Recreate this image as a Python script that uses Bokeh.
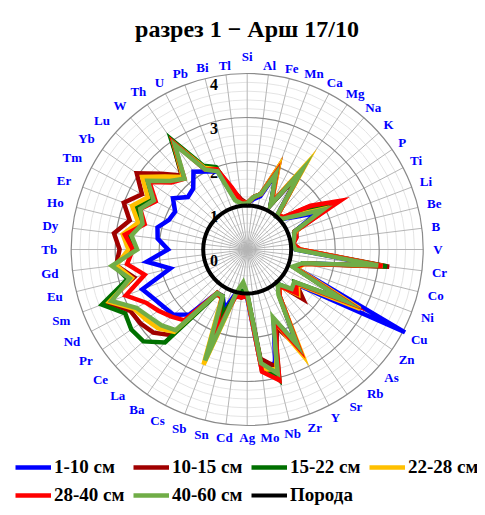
import numpy as np
from bokeh.plotting import figure
from bokeh.models import Range1d, Label, Legend, LegendItem
from bokeh.embed import file_html
from bokeh.resources import INLINE
from bokeh.core.properties import value

# ---------------- data ----------------
categories = ["Si", "Al", "Fe", "Mn", "Ca", "Mg", "Na", "K", "P", "Ti", "Li", "Be", "B", "V",
              "Cr", "Co", "Ni", "Cu", "Zn", "As", "Rb", "Sr", "Y", "Zr", "Nb", "Mo", "Ag",
              "Cd", "Sn", "Sb", "Cs", "Ba", "La", "Ce", "Pr", "Nd", "Sm", "Eu", "Gd", "Tb",
              "Dy", "Ho", "Er", "Tm", "Yb", "Lu", "W", "Th", "U", "Pb", "Bi", "Tl"]

s_1_10 = [1.05, 1.15, 1.25, 1.85, 1.15, 2.10, 1.00, 1.05, 1.30, 1.80, 1.15, 1.10, 1.05, 1.10,
          3.05, 1.30, 1.20, 4.05, 1.45, 1.40, 1.05, 1.30, 2.40, 1.70, 2.65, 2.75, 1.10,
          1.05, 1.00, 1.45, 1.20, 1.20, 1.97, 2.24, 2.30, 2.40, 2.55, 1.80, 2.30, 1.80,
          2.05, 2.10, 1.90, 1.85, 2.05, 1.80, 1.85, 2.15, 2.00, 1.90, 1.20, 1.05]
s_10_15 = [1.05, 1.20, 1.30, 2.00, 1.15, 2.15, 1.05, 1.10, 1.70, 2.20, 1.20, 1.15, 1.05, 1.20,
           3.25, 1.35, 1.15, 2.55, 1.35, 1.70, 1.05, 1.30, 2.50, 1.90, 2.75, 2.50, 1.05,
           1.10, 1.05, 1.75, 1.20, 1.20, 2.60, 2.85, 2.95, 3.00, 3.40, 2.65, 3.00, 2.90,
           3.05, 2.75, 3.00, 2.70, 3.05, 2.60, 2.25, 3.00, 2.10, 1.95, 1.40, 1.15]
s_15_22 = [1.05, 1.20, 1.30, 1.90, 1.15, 2.15, 1.05, 1.05, 1.45, 2.10, 1.15, 1.10, 1.05, 1.15,
           3.20, 1.30, 1.15, 2.50, 1.30, 1.45, 1.05, 1.30, 2.50, 1.70, 3.05, 2.60, 1.00,
           0.95, 1.10, 1.60, 1.20, 1.25, 2.82, 3.15, 3.20, 3.13, 3.53, 2.80, 3.05, 2.60,
           2.75, 2.50, 2.70, 2.50, 2.85, 2.45, 2.20, 3.05, 2.15, 2.00, 1.30, 1.10]
s_22_28 = [1.05, 1.20, 1.30, 2.00, 1.20, 2.33, 1.05, 1.10, 1.40, 2.00, 1.20, 1.10, 1.05, 1.20,
           3.10, 1.35, 1.20, 2.90, 1.40, 1.55, 1.10, 1.30, 2.70, 1.75, 2.80, 2.75, 1.05,
           1.05, 1.05, 2.80, 1.25, 1.20, 2.50, 2.70, 2.80, 2.90, 3.35, 2.70, 3.00, 2.70,
           2.85, 2.55, 2.80, 2.55, 2.90, 2.50, 2.20, 2.95, 2.10, 1.95, 1.25, 1.10]
s_28_40 = [1.05, 1.20, 1.30, 1.90, 1.20, 2.15, 1.05, 1.10, 1.75, 2.38, 1.15, 1.15, 1.05, 1.20,
           3.10, 1.35, 1.15, 2.60, 1.35, 1.50, 1.10, 1.30, 2.55, 1.75, 3.06, 2.80, 1.05,
           1.10, 1.10, 2.05, 1.25, 1.20, 2.15, 2.30, 2.45, 2.60, 2.95, 2.40, 2.75, 2.60,
           2.80, 2.40, 2.60, 2.35, 2.70, 2.30, 2.15, 2.95, 2.05, 1.95, 1.45, 1.10]
s_40_60 = [1.05, 1.20, 1.30, 1.85, 1.15, 2.20, 1.00, 1.05, 1.35, 1.95, 1.15, 1.10, 1.05, 1.10,
           3.00, 1.30, 1.10, 2.50, 1.30, 1.35, 1.05, 1.25, 2.45, 1.65, 2.90, 2.60, 1.00,
           0.75, 1.00, 2.70, 1.20, 1.20, 2.45, 2.60, 2.70, 2.85, 3.30, 2.75, 3.10, 2.50,
           2.65, 2.45, 2.60, 2.40, 2.75, 2.35, 2.15, 2.90, 2.05, 1.90, 1.15, 1.05]
s_rock = [1.0] * 52

series_names = ["1-10 см", "10-15 см", "15-22 см", "22-28 см", "28-40 см", "40-60 см", "Порода"]
series_values = [s_1_10, s_10_15, s_15_22, s_22_28, s_28_40, s_40_60, s_rock]
series_colors = ["#0000FF", "#A00000", "#007000", "#FFC000", "#FF0000", "#70AD47", "#000000"]

ticks = [0, 1, 2, 3, 4]
r_max = 4

# ---------------- figure ----------------
W, H = 477, 507
SCALE = 44.0           # px per unit of value
CX, CY = 246.7, 249.0  # centre of the radar in figure px (from top-left)

p = figure(width=W, height=H, output_backend="svg", toolbar_location=None,
           x_range=Range1d(-CX / SCALE, (W - CX) / SCALE),
           y_range=Range1d(-(H - CY) / SCALE, CY / SCALE),
           x_axis_type=None, y_axis_type=None, min_border=0)
p.grid.visible = False
p.outline_line_color = None
p.background_fill_color = "white"

n = len(categories)
theta = np.arange(n) * 2 * np.pi / n
sin_t, cos_t = np.sin(theta), np.cos(theta)

# minor rings
minor = [k * 0.2 for k in range(1, 20) if k % 5 != 0]
p.circle(x=[0] * len(minor), y=[0] * len(minor), radius=minor,
         fill_color=None, line_color="#e4e4e4", line_width=1)
# spokes
p.segment(x0=np.zeros(n), y0=np.zeros(n), x1=r_max * sin_t, y1=r_max * cos_t,
          line_color="#b5b5b5", line_width=1)
# major rings
major = [t for t in ticks if t > 0]
p.circle(x=[0] * len(major), y=[0] * len(major), radius=major,
         fill_color=None, line_color="#8a8a8a", line_width=1.2)

# value tick labels
p.text(x=[-33.2 / SCALE] * len(ticks), y=[t - 10.5 / SCALE for t in ticks],
       text=[str(t) for t in ticks], text_font=value("Liberation Serif"),
       text_font_style="bold", text_font_size="16px", text_color="black",
       text_align="center", text_baseline="middle")

# category labels
em = {"A": .722, "B": .667, "C": .722, "D": .722, "E": .667, "F": .611, "G": .778, "H": .778,
      "I": .389, "K": .778, "L": .667, "M": .944, "N": .722, "P": .611, "R": .722, "S": .556,
      "T": .667, "U": .722, "V": .722, "W": 1.0, "Y": .722, "Z": .667, "a": .5, "b": .556,
      "d": .556, "e": .444, "g": .5, "h": .556, "i": .278, "l": .278, "m": .833, "n": .556,
      "o": .5, "r": .444, "s": .389, "u": .556}
fs = 13
lx, ly = [], []
for c, s, co in zip(categories, sin_t, cos_t):
    w = sum(em.get(ch, .6) for ch in c) * fs
    d = 186 + w / 2 * abs(s) + (2.0 if co < 0 else -1.5) * abs(co) + (4.0 if s < 0 else 0) * abs(s)
    if abs(s) < 0.01 and co > 0:
        d += 8.5
    d /= SCALE
    lx.append(d * s)
    ly.append(d * co)
p.text(x=lx, y=ly, text=categories, text_font=value("Liberation Serif"),
       text_font_style="bold", text_font_size=f"{fs}px", text_color="#0000FF",
       text_align="center", text_baseline="middle")

# series
renderers = []
for vals, col in zip(series_values, series_colors):
    v = np.array(vals + [vals[0]])
    t = np.append(theta, theta[0])
    r = p.line(x=v * np.sin(t), y=v * np.cos(t), line_color=col,
               line_width=4 if col == "#000000" else 4.5, line_join="miter")
    renderers.append(r)

# title
p.add_layout(Label(x=246.5, y=H - 28, x_units="screen", y_units="screen",
                   text="разрез 1 − Арш 17/10", text_font="Liberation Serif",
                   text_font_style="bold", text_font_size="24px", text_color="black",
                   text_align="center", text_baseline="middle"))

# legend, two rows
def make_legend(idx, y):
    lg = Legend(items=[LegendItem(label=series_names[i], renderers=[renderers[i]]) for i in idx],
                location=(15, y), orientation="horizontal",
                glyph_width=36, glyph_height=14, label_height=14, label_width=75,
                label_standoff=3, spacing=4, padding=0, margin=0,
                border_line_color=None, background_fill_alpha=0,
                label_text_font="Liberation Serif", label_text_font_style="bold",
                label_text_font_size="19px", label_text_color="black")
    p.add_layout(lg)

make_legend([0, 1, 2, 3], 29)
make_legend([4, 5, 6], 1)

open("out.html", "w").write(file_html(p, INLINE))
